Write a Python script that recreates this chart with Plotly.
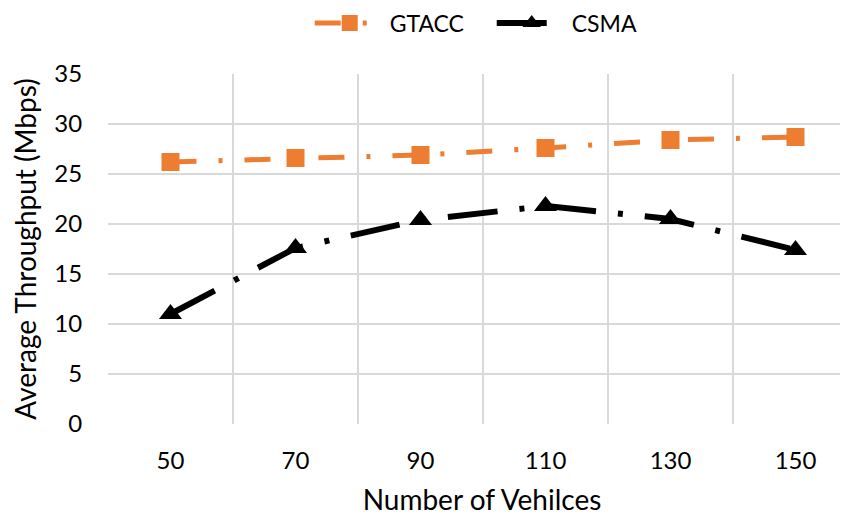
import plotly.graph_objects as go

vehicles = [50, 70, 90, 110, 130, 150]
gtacc = [26.2, 26.6, 26.9, 27.6, 28.4, 28.7]
csma = [11.0, 17.6, 20.4, 21.8, 20.5, 17.4]
y_ticks = [0, 5, 10, 15, 20, 25, 30, 35]
grid_x = [40, 60, 80, 100, 120, 140]

FONT = "Lato"
GRID = "#D9D9D9"

fig = go.Figure()
fig.add_trace(go.Scatter(
    x=vehicles, y=gtacc, name="GTACC", mode="lines+markers",
    line=dict(color="#ED7D31", width=5, dash="26px,22px,4px,22px"),
    marker=dict(symbol="square", size=18, color="#ED7D31"),
))
fig.add_trace(go.Scatter(
    x=vehicles, y=csma, name="CSMA", mode="lines+markers",
    line=dict(color="#000000", width=6, dash="50px,22px,5px,22px"),
    marker=dict(symbol="triangle-up", size=20, color="#000000"),
))

fig.update_layout(
    width=848, height=517,
    margin=dict(l=100, r=0, t=66, b=101, autoexpand=False),
    paper_bgcolor="white", plot_bgcolor="white",
    font=dict(family=FONT, size=24, color="#000000"),
    showlegend=True,
    legend=dict(orientation="h", x=0.513, xanchor="center", yref="container",
                y=0.971, yanchor="middle", font=dict(size=23, color="#000000"),
                itemwidth=70, entrywidth=97, entrywidthmode="pixels",
                bgcolor="rgba(0,0,0,0)"),
    xaxis=dict(
        range=[40, 159.68], tickvals=vehicles, ticktext=[str(v) for v in vehicles],
        showgrid=False, zeroline=False,
        ticks="outside", ticklen=15, tickcolor="rgba(0,0,0,0)",
        tickfont=dict(size=24),
        showline=False,
        minor=dict(tickvals=grid_x, showgrid=True, gridcolor=GRID, gridwidth=2, ticks=""),
        title=dict(text="Number of Vehilces", font=dict(size=28), standoff=17),
    ),
    yaxis=dict(
        range=[0, 35], tickvals=y_ticks, showgrid=True, gridcolor=GRID, gridwidth=2,
        zeroline=False, showline=False,
        ticks="outside", ticklen=20, tickcolor="rgba(0,0,0,0)",
        tickfont=dict(size=24),
        title=dict(text="Average Throughput (Mbps)", font=dict(size=28), standoff=10),
    ),
)

fig.write_html("out.html")
